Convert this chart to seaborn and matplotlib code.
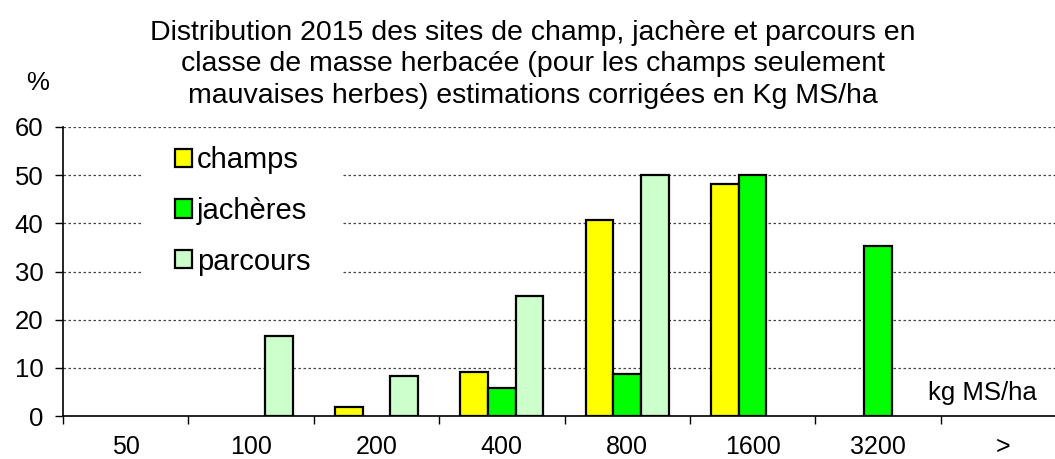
import matplotlib
matplotlib.use("Agg")
import matplotlib.pyplot as plt
from matplotlib.patches import Patch, Rectangle
from matplotlib.ticker import MultipleLocator, FixedLocator
import seaborn as sns
import pandas as pd

categories = ["50", "100", "200", "400", "800", "1600", "3200", ">"]
series_names = ["champs", "jachères", "parcours"]
champs = [None, None, 1.9, 9.2, 40.7, 48.1, None, None]
jacheres = [None, None, None, 5.9, 8.7, 50.0, 35.2, None]
parcours = [None, 16.6, 8.3, 25.0, 50.0, None, None, None]
colors = ["#FFFF00", "#00FF00", "#CCFFCC"]

title = ("Distribution 2015 des sites de champ, jachère et parcours en\n"
         "classe de masse herbacée (pour les champs seulement\n"
         "mauvaises herbes) estimations corrigées en Kg MS/ha")

rows = []
for name, vals in zip(series_names, [champs, jacheres, parcours]):
    for c, v in zip(categories, vals):
        if v is not None:
            rows.append({"classe": c, "serie": name, "pct": v})
df = pd.DataFrame(rows)

sns.set_theme(style="white")
plt.rcParams["font.family"] = ["Liberation Sans", "DejaVu Sans"]

W, H = 1055, 459
fig = plt.figure(figsize=(W / 100, H / 100), dpi=100)
left_px, right_px, top_px, bot_px = 63, 1066, 127, 416
ax = fig.add_axes([left_px / W, 1 - bot_px / H, (right_px - left_px) / W, (bot_px - top_px) / H])

sns.barplot(data=df, x="classe", y="pct", hue="serie", order=categories,
            hue_order=series_names, palette=colors, saturation=1, width=0.665, gap=0,
            edgecolor="black", linewidth=1.6, errorbar=None, ax=ax, legend=False,
            zorder=3)

ax.set_xlim(-0.5, len(categories) - 0.5)
ax.set_ylim(0, 60)
ax.yaxis.set_major_locator(MultipleLocator(10))
ax.grid(axis="y", color="#444444", linestyle=(0, (2, 2)), linewidth=0.9, zorder=0)
ax.set_axisbelow(True)
for s in ["top", "right"]:
    ax.spines[s].set_visible(False)
for s in ["left", "bottom"]:
    ax.spines[s].set_color("black")
    ax.spines[s].set_linewidth(1.2)
ax.set_xlabel("")
ax.set_ylabel("")

ax.xaxis.set_minor_locator(FixedLocator([i - 0.5 for i in range(len(categories) + 1)]))
ax.tick_params(axis="x", which="major", length=0, pad=14, labelsize=18, colors="black")
ax.tick_params(axis="x", which="minor", length=6, width=1, direction="out", color="black", bottom=True)
ax.tick_params(axis="y", which="major", length=6, width=1, direction="out", pad=8,
               labelsize=18.5, colors="black", left=True)

# white legend background area (covers the gridlines like in the reference)
ax.add_patch(Rectangle((141 / W, 1 - 288 / H), (343 - 141) / W, (288 - 135) / H,
                       transform=fig.transFigure, facecolor="white", edgecolor="none",
                       zorder=2))

handles = [Patch(facecolor=c, edgecolor="black", linewidth=1.6) for c in colors]
leg = ax.legend(handles, series_names, loc="upper left",
                bbox_to_anchor=(175 / W, 1 - 146 / H), bbox_transform=fig.transFigure,
                fontsize=21, frameon=False,
                handlelength=0.58, handleheight=0.58, handletextpad=0.17, labelspacing=0.78,
                borderpad=0, borderaxespad=0)
for t in leg.get_texts():
    t.set_color("black")
leg.set_zorder(5)

fig.text(533 / W, 1 - 20 / H, title, ha="center", va="top", fontsize=20.5, linespacing=1.27,
         color="black")
fig.text(38 / W, 1 - 83 / H, "%", ha="center", va="center", fontsize=18.5, color="black")
fig.text(982 / W, 1 - 393 / H, "kg MS/ha", ha="center", va="center", fontsize=18.5, color="black")

fig.savefig("out.png", dpi=100)
